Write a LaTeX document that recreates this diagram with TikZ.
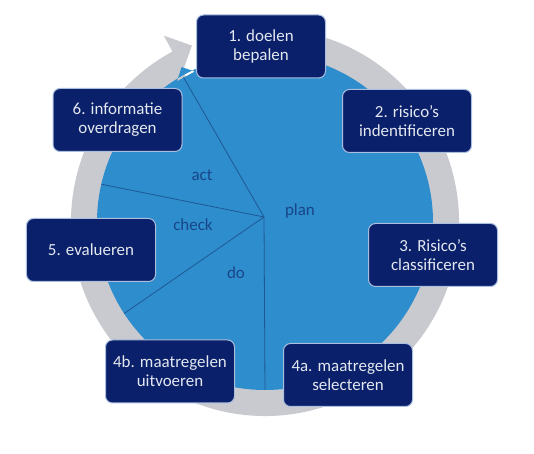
\documentclass[tikz,border=0pt]{standalone}
\usepackage{fontspec}
\setmainfont{Carlito}
\usepackage{tikz}
\usetikzlibrary{calc,positioning}

\definecolor{navy}{RGB}{10,32,106}
\definecolor{discblue}{RGB}{46,141,205}
\definecolor{ringgray}{RGB}{201,202,207}
\definecolor{spokeblue}{RGB}{30,88,148}
\definecolor{labelblue}{RGB}{24,70,136}
\definecolor{boxtext}{RGB}{228,232,240}
\definecolor{boxline}{RGB}{170,190,222}

\begin{document}
\begin{tikzpicture}[x=1bp,y=1bp]
	\tikzstyle{block} = [draw=boxline, line width=1bp, fill=navy, rounded corners=7bp, minimum width=129bp, minimum height=63bp, align=center, text=boxtext, font=\fontsize{17}{19}\selectfont]
	\tikzstyle{phase} = [text=labelblue, font=\fontsize{17}{19}\selectfont]
	\tikzstyle{spoke} = [draw=spokeblue, line width=0.8bp]
	
	\useasboundingbox (0,0) rectangle (534,454);
	
	\coordinate (c) at (265,232);
	\coordinate (hub) at (264,237);
	
	\fill [ringgray] ($(c)+(75:194)$) arc[start angle=75, end angle=-241.5, radius=194]
		-- ($(c)+(118.5:212)$) -- ($(c)+(112.5:191)$) -- ($(c)+(118.5:172)$)
		-- ($(c)+(118.5:160)$) arc[start angle=-241.5, end angle=75, radius=160] -- cycle;
	\fill [discblue] (c) circle[radius=168]
		($(c)+(122:166)$) -- ($(c)+(118.3:176)$) -- ($(c)+(115:166)$) -- cycle;
	
	\coordinate (e1) at ($(c)+(119.4:166)$);
	\coordinate (e2) at ($(c)+(167:168)$);
	\coordinate (e3) at ($(c)+(213:168)$);
	\coordinate (e4) at ($(c)+(270:168)$);
	
	\draw [spoke] (hub) -- (e1);
	\draw [spoke] (hub) -- (e2);
	\draw [spoke] (hub) -- (e3);
	\draw [spoke] (hub) -- (e4);
	
	\node [phase] (act) at (202,279) {act};
	\node [phase] (check) at (193,229) {check};
	\node [phase] (do) at (236,181) {do};
	\node [phase] (plan) at (300,243) {plan};
	
	\node [block] (doelen) at (261,407.5) {1. doelen\\bepalen};
	\node [block] (ident) at (407,333) {2. risico’s\\indentificeren};
	\node [block] (class) at (433,199) {3. Risico’s\\classificeren};
	\node [block] (select) at (348,79) {4a. maatregelen\\selecteren};
	\node [block] (uitvoer) at (170,82.5) {4b. maatregelen\\uitvoeren};
	\node [block] (eval) at (91,204) {5. evalueren};
	\node [block] (info) at (117.5,334) {6. informatie\\overdragen};
\end{tikzpicture}
\end{document}
